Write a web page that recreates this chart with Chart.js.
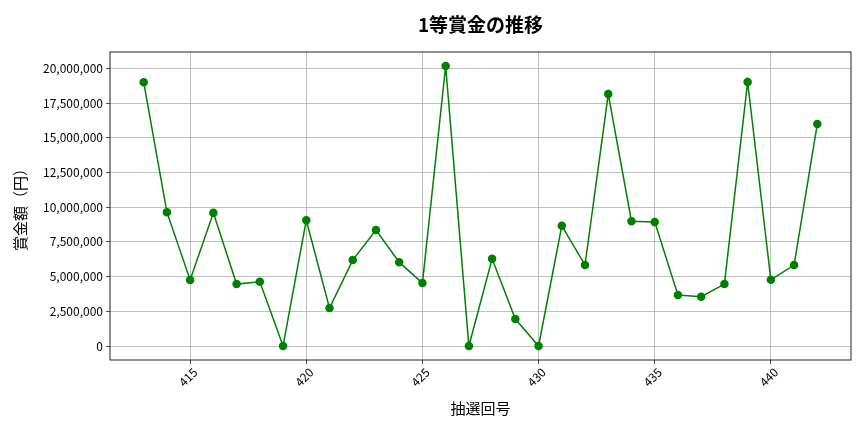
<!DOCTYPE html>
<html>
<head>
<meta charset="utf-8">
<script src="https://cdn.jsdelivr.net/npm/chart.js@4"></script>
<style>
  html, body { margin: 0; padding: 0; background: #fff; }
  #wrap { width: 864px; height: 432px; }
</style>
</head>
<body>
<div id="wrap"><canvas id="prizeChart"></canvas></div>
<script>
// draw numbers and 1st prize amounts (yen)
var draws = [413, 414, 415, 416, 417, 418, 419, 420, 421, 422, 423, 424, 425, 426, 427,
             428, 429, 430, 431, 432, 433, 434, 435, 436, 437, 438, 439, 440, 441, 442];
var prizes = [19000000, 9640000, 4750000, 9590000, 4460000, 4630000, 0, 9060000, 2730000, 6190000,
              8350000, 6040000, 4530000, 20170000, 0, 6280000, 1940000, 0, 8660000, 5830000,
              18150000, 8990000, 8940000, 3670000, 3550000, 4460000, 19020000, 4770000, 5830000, 16000000];
var xTicks = [415, 420, 425, 430, 435, 440];
var yTicks = [0, 2500000, 5000000, 7500000, 10000000, 12500000, 15000000, 17500000, 20000000];
var titleText = '1等賞金の推移';

var font = "'Noto Sans CJK JP', 'Noto Sans', sans-serif";

// frame around the plot + title centred over the plot area
var frame = {
  id: 'frame',
  afterDatasetsDraw: function(chart) {
    var a = chart.chartArea, c = chart.ctx;
    c.save();
    c.strokeStyle = '#222';
    c.lineWidth = 1;
    c.strokeRect(a.left, a.top, a.right - a.left, a.bottom - a.top);
    c.fillStyle = '#000';
    c.font = 'bold 19px ' + font;
    c.textAlign = 'center';
    c.textBaseline = 'middle';
    c.fillText(titleText, (a.left + a.right) / 2, 25);
    c.restore();
  }
};

var ctx = document.getElementById('prizeChart').getContext('2d');
var prizeChart = new Chart(ctx, {
  type: 'line',
  data: {
    datasets: [{
      label: '1等賞金',
      data: draws.map(function(d, i) { return { x: d, y: prizes[i] }; }),
      borderColor: '#008000',
      backgroundColor: '#008000',
      borderWidth: 1.5,
      pointRadius: 3.5,
      pointHoverRadius: 3.5,
      tension: 0
    }]
  },
  options: {
    responsive: true,
    maintainAspectRatio: false,
    animation: false,
    layout: { padding: { left: 0, right: 13, top: 52, bottom: 0 } },
    scales: {
      x: {
        type: 'linear',
        min: 411.55,
        max: 443.45,
        afterBuildTicks: function(axis) {
          axis.ticks = xTicks.map(function(v) { return { value: v }; });
        },
        afterFit: function(axis) { axis.height = 72; },
        grid: { color: '#b0b0b0', lineWidth: 0.8, tickLength: 4, tickColor: '#222' },
        border: { display: false },
        ticks: {
          minRotation: 45, maxRotation: 45,
          color: '#000', padding: 1, labelOffset: 5,
          font: { family: font, size: 12 },
          callback: function(v) { return String(v); }
        },
        title: {
          display: true, text: '抽選回号', color: '#000',
          font: { family: font, size: 15 }, padding: { top: 4, bottom: 15 }
        }
      },
      y: {
        min: -1008000,
        max: 21178000,
        afterBuildTicks: function(axis) {
          axis.ticks = yTicks.map(function(v) { return { value: v }; });
        },
        afterFit: function(axis) { axis.width = 110; },
        grid: { color: '#b0b0b0', lineWidth: 0.8, tickLength: 4, tickColor: '#222' },
        border: { display: false },
        ticks: {
          color: '#000', padding: 3,
          font: { family: font, size: 12 },
          callback: function(v) { return v.toLocaleString('en-US'); }
        },
        title: {
          display: true, text: '賞金額（円）', color: '#000',
          font: { family: font, size: 15 }, padding: { top: 11, bottom: 6 }
        }
      }
    },
    plugins: {
      legend: { display: false },
      tooltip: { enabled: false },
      title: { display: false }
    }
  },
  plugins: [frame]
});
</script>
</body>
</html>
